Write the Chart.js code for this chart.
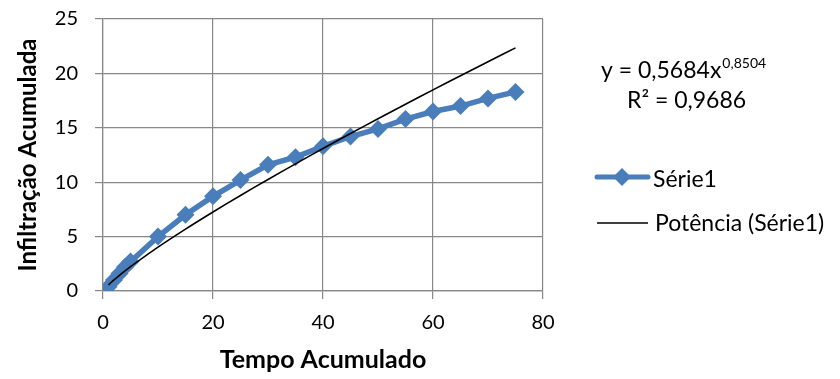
<!DOCTYPE html>
<html>
<head>
<meta charset="utf-8">
<script src="https://cdn.jsdelivr.net/npm/chart.js@4"></script>
<style>
  html, body { margin: 0; padding: 0; background: #fff; }
  #wrap { width: 840px; height: 379px; }
</style>
</head>
<body>
<div id="wrap"><canvas id="c" width="840" height="379"></canvas></div>
<script>
// Cumulative infiltration measurements
const tempo = [1, 2, 3, 4, 5, 10, 15, 20, 25, 30, 35, 40, 45, 50, 55, 60, 65, 70, 75];
const infiltracao = [0.4, 1.0, 1.6, 2.2, 2.7, 5.0, 7.0, 8.7, 10.2, 11.6, 12.3, 13.3, 14.2, 14.9, 15.8, 16.5, 17.0, 17.7, 18.3];

// Power trendline coefficients: y = a * x^b
const coefA = 0.5684;
const coefB = 0.8504;
const r2 = '0,9686';

const xTicks = [0, 20, 40, 60, 80];
const yTicks = [0, 5, 10, 15, 20, 25];

const FONT = "Lato, 'Open Sans', sans-serif";
const BLUE = '#4a7ebb';
const GRID = '#888888';

const serie1 = tempo.map((t, i) => ({ x: t, y: infiltracao[i] }));
const trend = tempo.map(t => ({ x: t, y: coefA * Math.pow(t, coefB) }));

// Equation label and legend on the right side
const sidePanel = {
  id: 'sidePanel',
  afterDraw(chart) {
    const ctx = chart.ctx;
    ctx.save();
    ctx.fillStyle = '#000';
    ctx.textBaseline = 'alphabetic';
    ctx.textAlign = 'left';
    // equation
    ctx.font = '23px ' + FONT;
    const main = 'y = 0,5684x';
    ctx.fillText(main, 601, 78);
    const w = ctx.measureText(main).width;
    ctx.font = '14px ' + FONT;
    ctx.fillText('0,8504', 601 + w + 1, 68);
    ctx.font = '23px ' + FONT;
    ctx.fillText('R\u00B2 = ' + r2, 627, 108);

    // legend: Série1
    ctx.strokeStyle = BLUE;
    ctx.lineWidth = 5;
    ctx.lineCap = 'round';
    ctx.beginPath();
    ctx.moveTo(597, 177);
    ctx.lineTo(648, 177);
    ctx.stroke();
    ctx.fillStyle = BLUE;
    ctx.beginPath();
    ctx.moveTo(622, 168);
    ctx.lineTo(631, 177);
    ctx.lineTo(622, 186);
    ctx.lineTo(613, 177);
    ctx.closePath();
    ctx.fill();
    ctx.fillStyle = '#000';
    ctx.fillText('S\u00E9rie1', 653, 187);

    // legend: trendline
    ctx.strokeStyle = '#000';
    ctx.lineWidth = 1.5;
    ctx.lineCap = 'butt';
    ctx.beginPath();
    ctx.moveTo(597, 223);
    ctx.lineTo(648, 223);
    ctx.stroke();
    ctx.fillText('Pot\u00EAncia (S\u00E9rie1)', 655, 231);
    ctx.restore();
  }
};

new Chart(document.getElementById('c'), {
  type: 'scatter',
  data: {
    datasets: [
      {
        label: 'Série1',
        data: serie1,
        showLine: true,
        borderColor: BLUE,
        backgroundColor: BLUE,
        borderWidth: 5.5,
        pointStyle: 'rectRot',
        pointRadius: 9,
        pointHoverRadius: 9,
        pointBorderWidth: 0,
        order: 2
      },
      {
        label: 'Potência (Série1)',
        data: trend,
        showLine: true,
        borderColor: '#000',
        borderWidth: 1.6,
        pointRadius: 0,
        tension: 0.3,
        order: 1
      }
    ]
  },
  options: {
    responsive: false,
    animation: false,
    events: [],
    layout: { padding: { left: 0, top: 19, right: 297, bottom: 0 } },
    plugins: { legend: { display: false }, tooltip: { enabled: false } },
    scales: {
      x: {
        type: 'linear',
        min: 0, max: 80,
        afterBuildTicks: s => { s.ticks = xTicks.map(v => ({ value: v })); },
        afterFit: s => { s.height = 88; s.paddingLeft = 0; s.paddingRight = 0; },
        grid: { color: GRID, lineWidth: 1.2, tickLength: 8, drawTicks: true },
        border: { color: GRID, width: 1.2 },
        ticks: { color: '#000', font: { family: FONT, size: 20 }, padding: 12, maxRotation: 0 },
        title: { display: true, text: 'Tempo Acumulado', color: '#000', font: { family: FONT, size: 25, weight: 'bold' }, padding: { top: 8 } }
      },
      y: {
        type: 'linear',
        min: 0, max: 25,
        afterBuildTicks: s => { s.ticks = yTicks.map(v => ({ value: v })); },
        afterFit: s => { s.width = 103; s.paddingTop = 0; s.paddingBottom = 0; },
        grid: { color: GRID, lineWidth: 1.2, tickLength: 8, drawTicks: true },
        border: { color: GRID, width: 1.2 },
        ticks: { color: '#000', font: { family: FONT, size: 20 }, padding: 17 },
        title: { display: true, text: 'Infiltração Acumulada', color: '#000', font: { family: FONT, size: 24, weight: 'bold' }, padding: { top: 14, bottom: 0 } }
      }
    }
  },
  plugins: [sidePanel]
});
</script>
</body>
</html>
